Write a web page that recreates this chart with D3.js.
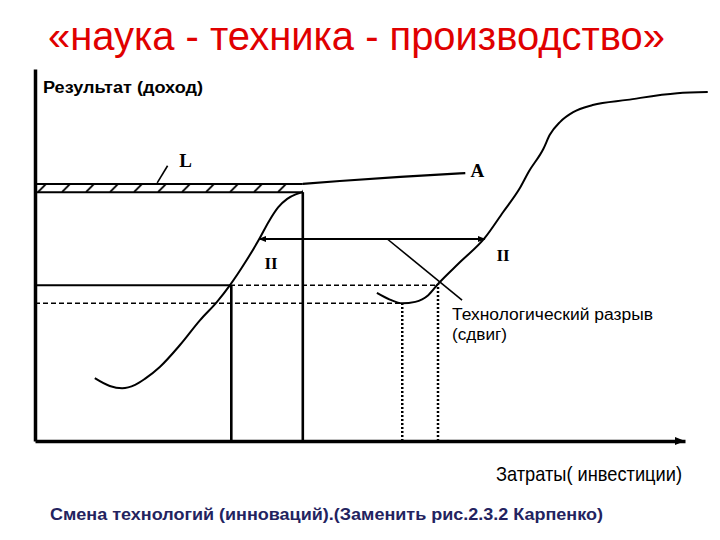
<!DOCTYPE html>
<html>
<head>
<meta charset="utf-8">
<script src="https://cdn.jsdelivr.net/npm/d3@7"></script>
<style>
  body { margin: 0; background: #fff; }
  svg { display: block; }
  .axis path { stroke: #000; stroke-width: 3.5; }
  .axis line { display: none; }
</style>
</head>
<body>
<div id="chart"></div>
<script>
// chart units: x = затраты, y = результат, both 0..100
var curveOne = [[9.2, 16.9], [11.5, 14.8], [13.4, 14.2], [15.4, 15.1], [16.9, 16.7], [19.2, 19.9],
    [22.3, 25.8], [25.4, 32.5], [28.0, 37.4], [30.0, 41.9], [32.3, 47.9], [34.5, 54.3],
    [36.0, 59.1], [37.4, 62.8], [38.8, 65.1], [40.1, 66.3], [41.2, 66.9]];
var curveTwo = [[52.6, 39.8], [54.6, 38.0], [56.5, 37.0], [58.5, 37.4], [60.5, 39.2], [62.0, 42.2],
    [65.4, 48.1], [69.2, 54.6], [72.0, 61.5], [74.6, 68.0], [76.0, 72.5], [78.2, 78.5],
    [79.2, 82.3], [80.8, 85.8], [82.8, 88.4], [85.8, 90.3], [91.1, 91.7], [98.8, 93.5], [103.5, 93.8]];
var limitLine = [[41.2, 69.1], [46.9, 69.9], [56.2, 71.0], [66.2, 72.0]];
var band = {x0: 0, x1: 41.2, top: 69.1, bottom: 66.9};
var shiftLine = [[34.5, 54.3], [69.2, 54.3]];
var crossLine = [[54.2, 54.3], [65.7, 37.9]];
var solidH = [{y: 41.9, x0: 0, x1: 30.0}];
var dashedH = [{y: 41.9, x0: 30.0, x1: 62.0}, {y: 37.0, x0: 0, x1: 56.5}];
var solidV = [{x: 30.2, y0: 0, y1: 41.9}, {x: 41.2, y0: 0, y1: 66.9}];
var dottedV = [{x: 56.5, y0: 0, y1: 37.0}, {x: 62.0, y0: 0, y1: 42.2}];
var letters = [
    {t: "L", x: 22.2, y: 73.7, size: 19},
    {t: "A", x: 67.0, y: 71.0, size: 19},
    {t: "II", x: 35.3, y: 46.2, size: 17},
    {t: "II", x: 71.0, y: 48.4, size: 17}
];
var leader = [[18.8, 69.4], [20.4, 74.0]];

var width = 720, height = 540;

var svg = d3.select("#chart").append("svg")
    .attr("width", width)
    .attr("height", height);

var xScale = d3.scaleLinear().domain([0, 100]).range([35, 685]);
var yScale = d3.scaleLinear().domain([0, 100]).range([441, 69]);

var defs = svg.append("defs");
defs.append("marker")
    .attr("id", "tip")
    .attr("viewBox", "0 0 10 10")
    .attr("refX", 9).attr("refY", 5)
    .attr("markerWidth", 4).attr("markerHeight", 4)
    .attr("markerUnits", "strokeWidth")
    .attr("orient", "auto-start-reverse")
    .append("path").attr("d", "M0,1L10,5L0,9z").attr("fill", "#000");

var bandH = yScale(band.bottom) - yScale(band.top);
var hatch = defs.append("pattern")
    .attr("id", "hatch")
    .attr("patternUnits", "userSpaceOnUse")
    .attr("x", xScale(0)).attr("y", yScale(band.top))
    .attr("width", 24).attr("height", bandH);
hatch.append("line")
    .attr("x1", 3).attr("y1", bandH)
    .attr("x2", 11).attr("y2", 0)
    .attr("stroke", "#000").attr("stroke-width", 1.8);

function label(x, y, size, len, txt) {
    return svg.append("text")
        .attr("x", x).attr("y", y)
        .attr("font-family", "Liberation Sans, Arial, sans-serif")
        .attr("font-size", size)
        .attr("textLength", len)
        .attr("lengthAdjust", "spacingAndGlyphs")
        .text(txt);
}

// title
label(48, 50, 40, 617, "«наука - техника - производство»").attr("fill", "#e00000");

// axes
var xAxis = d3.axisBottom(xScale).tickValues([]).tickSizeOuter(0);
var yAxis = d3.axisLeft(yScale).tickValues([]).tickSizeOuter(0);
svg.append("g").attr("class", "axis")
    .attr("transform", `translate(0, ${yScale(0)})`)
    .call(xAxis);
svg.append("g").attr("class", "axis")
    .attr("transform", `translate(${xScale(0)}, 0)`)
    .call(yAxis);
svg.append("path")
    .attr("d", `M${xScale(100) - 10},${yScale(0) - 4}L${xScale(100)},${yScale(0)}L${xScale(100) - 10},${yScale(0) + 4}z`)
    .attr("fill", "#000");

// hatched band L
svg.append("rect")
    .attr("x", xScale(band.x0)).attr("y", yScale(band.top))
    .attr("width", xScale(band.x1) - xScale(band.x0))
    .attr("height", bandH)
    .attr("fill", "url(#hatch)");
[band.top, band.bottom].forEach(function (v) {
    svg.append("line")
        .attr("x1", xScale(band.x0)).attr("x2", xScale(band.x1))
        .attr("y1", yScale(v)).attr("y2", yScale(v))
        .attr("stroke", "#000").attr("stroke-width", 2);
});

var line = d3.line()
    .x(function (d) { return xScale(d[0]); })
    .y(function (d) { return yScale(d[1]); });
var smooth = d3.line()
    .x(function (d) { return xScale(d[0]); })
    .y(function (d) { return yScale(d[1]); })
    .curve(d3.curveMonotoneX);

svg.append("path").datum(limitLine).attr("d", smooth)
    .attr("fill", "none").attr("stroke", "#000").attr("stroke-width", 2.2);
svg.append("path").datum(curveOne).attr("d", smooth)
    .attr("fill", "none").attr("stroke", "#000").attr("stroke-width", 2);
svg.append("path").datum(curveTwo).attr("d", smooth)
    .attr("fill", "none").attr("stroke", "#000").attr("stroke-width", 2);

// horizontal guides
svg.selectAll(".solidH").data(solidH).enter().append("line")
    .attr("x1", function (d) { return xScale(d.x0); })
    .attr("x2", function (d) { return xScale(d.x1); })
    .attr("y1", function (d) { return yScale(d.y); })
    .attr("y2", function (d) { return yScale(d.y); })
    .attr("stroke", "#000").attr("stroke-width", 2);
svg.selectAll(".dashedH").data(dashedH).enter().append("line")
    .attr("x1", function (d) { return xScale(d.x0); })
    .attr("x2", function (d) { return xScale(d.x1); })
    .attr("y1", function (d) { return yScale(d.y); })
    .attr("y2", function (d) { return yScale(d.y); })
    .attr("stroke", "#000").attr("stroke-width", 1.5)
    .attr("stroke-dasharray", "5,3");

// vertical guides
svg.selectAll(".solidV").data(solidV).enter().append("line")
    .attr("x1", function (d) { return xScale(d.x); })
    .attr("x2", function (d) { return xScale(d.x); })
    .attr("y1", function (d) { return yScale(d.y0); })
    .attr("y2", function (d) { return yScale(d.y1); })
    .attr("stroke", "#000").attr("stroke-width", 2.6);
svg.selectAll(".dottedV").data(dottedV).enter().append("line")
    .attr("x1", function (d) { return xScale(d.x); })
    .attr("x2", function (d) { return xScale(d.x); })
    .attr("y1", function (d) { return yScale(d.y0); })
    .attr("y2", function (d) { return yScale(d.y1); })
    .attr("stroke", "#000").attr("stroke-width", 2.5)
    .attr("stroke-dasharray", "2,2");

// technology shift
svg.append("path").datum(shiftLine).attr("d", line)
    .attr("fill", "none").attr("stroke", "#000").attr("stroke-width", 2)
    .attr("marker-start", "url(#tip)").attr("marker-end", "url(#tip)");
svg.append("path").datum(crossLine).attr("d", line)
    .attr("fill", "none").attr("stroke", "#000").attr("stroke-width", 1.6);
svg.append("path").datum(leader).attr("d", line)
    .attr("fill", "none").attr("stroke", "#000").attr("stroke-width", 1.6);

// letters
svg.selectAll(".letter").data(letters).enter().append("text")
    .attr("x", function (d) { return xScale(d.x); })
    .attr("y", function (d) { return yScale(d.y); })
    .attr("font-family", "Liberation Serif, Times New Roman, serif")
    .attr("font-weight", "bold")
    .attr("font-size", function (d) { return d.size; })
    .text(function (d) { return d.t; });

// texts
label(43, 93, 16, 160, "Результат (доход)").attr("font-weight", "bold");
label(452, 320, 16, 201, "Технологический разрыв");
label(452, 340, 16, 55, "(сдвиг)");
label(496, 481, 21, 186, "Затраты( инвестиции)");
label(50, 520, 17, 553, "Смена технологий (инноваций).(Заменить рис.2.3.2 Карпенко)")
    .attr("font-weight", "bold").attr("fill", "#23235f");
</script>
</body>
</html>
